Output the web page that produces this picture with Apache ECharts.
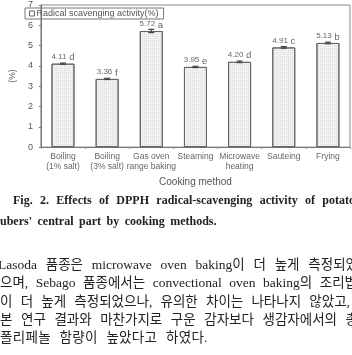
<!DOCTYPE html>
<html>
<head>
<meta charset="utf-8">
<script src="https://cdn.jsdelivr.net/npm/echarts@6/dist/echarts.min.js"></script>
<style>
  body { margin: 0; width: 352px; height: 355px; overflow: hidden; background: #fff; position: relative; }
  #chart { position: absolute; left: 0; top: 0; width: 352px; height: 192px; }
  .ln { position: absolute; white-space: nowrap; text-align: justify; text-align-last: justify; line-height: 18px; color: #222; }
  .cap { font-family: "Liberation Serif", "DejaVu Serif", serif; font-weight: bold; font-size: 12px; }
  .par { font-family: "Liberation Serif", "Noto Sans CJK KR", serif; font-size: 13.5px; }
</style>
</head>
<body>
<div id="chart"></div>
<div class="ln cap" style="left:13px; top:191px; width:342px;">Fig. 2. Effects of DPPH radical-scavenging activity of potato</div>
<div class="ln cap" style="left:-4px; top:212px; text-align-last:left; word-spacing:2.5px;">tubers' central part by cooking methods.</div>
<div class="ln par" style="left:-2px; top:256px; width:360px;">Lasoda 품종은 microwave oven baking이 더 높게 측정되었</div>
<div class="ln par" style="left:0px; top:274px; width:357px;">으며, Sebago 품종에서는 convectional oven baking의 조리법</div>
<div class="ln par" style="left:0px; top:293px; width:350px;">이 더 높게 측정되었으나, 유의한 차이는 나타나지 않았고,</div>
<div class="ln par" style="left:0px; top:311px; width:358px;">본 연구 결과와 마찬가지로 구운 감자보다 생감자에서의 총</div>
<div class="ln par" style="left:0px; top:329px; text-align-last:left; word-spacing:5px; letter-spacing:0.3px;">폴리페놀 함량이 높았다고 하였다.</div>
<script>
const categories = ["Boiling\n(1% salt)", "Boiling\n(3% salt)", "Gas oven\nrange baking", "Steaming", "Microwave\nheating", "Sauteing", "Frying"];
const activity = [4.11, 3.36, 5.72, 3.95, 4.20, 4.91, 5.13];
const errors = [0.03, 0.03, 0.08, 0.03, 0.04, 0.04, 0.04];
const letters = ["d", "f", "a", "e", "d", "c", "b"];
const yTicks = [0, 1, 2, 3, 4, 5, 6, 7];

const myChart = echarts.init(document.getElementById("chart"));
const errData = activity.map((v, i) => [i, v - errors[i], v + errors[i]]);

const option = {
  animation: false,
  textStyle: { fontFamily: "Liberation Sans, Arial, sans-serif" },
  grid: {
    left: 23.5,
    right: 2,
    top: 5,
    bottom: 40,
    show: true,
    borderColor: "#888",
    borderWidth: 1,
  },
  legend: {
    left: 25,
    top: 8,
    borderColor: "#777",
    borderWidth: 1,
    padding: [1, 5, 1, 4],
    itemWidth: 5,
    itemHeight: 5,
    itemGap: 2,
    textStyle: { fontSize: 9, color: "#555", padding: [0, 0, 0, -3] },
    data: [{
      name: "Radical scavenging activity(%)",
      icon: "rect",
      itemStyle: { color: "#fff", borderColor: "#666", borderWidth: 1, decal: "none" },
    }],
  },
  xAxis: {
    type: "category",
    data: categories,
    name: "Cooking method",
    nameLocation: "middle",
    nameGap: 26,
    nameTextStyle: { fontSize: 10, color: "#555" },
    axisLine: { lineStyle: { color: "#777" } },
    axisTick: { show: true, length: 2, lineStyle: { color: "#999" } },
    axisLabel: { fontSize: 8.5, color: "#666", lineHeight: 10, margin: 5, interval: 0 },
  },
  yAxis: {
    type: "value",
    min: 0,
    max: 7,
    interval: 1,
    name: "(%)",
    nameLocation: "middle",
    nameRotate: 90,
    nameGap: 18,
    nameTextStyle: { fontSize: 8.5, color: "#666" },
    axisLine: { show: true, lineStyle: { color: "#777" } },
    axisTick: { show: true, length: 2, lineStyle: { color: "#777" } },
    axisLabel: {
      fontSize: 9,
      color: "#555",
      margin: 8,
      formatter: (v) => (yTicks.includes(v) ? String(v) : ""),
    },
    splitLine: { show: false },
  },
  series: [
    {
      name: "Radical scavenging activity(%)",
      type: "bar",
      barWidth: 23,
      data: activity,
      itemStyle: {
        color: "#f2f2f2",
        borderColor: "#666",
        borderWidth: 1,
        decal: {
          symbol: "rect",
          symbolSize: 1,
          color: "rgba(110,110,110,0.16)",
          dashArrayX: [1, 1],
          dashArrayY: [1, 1],
          rotation: 0,
        },
      },
      label: {
        show: true,
        position: "top",
        distance: 1,
        formatter: (p) => "{v|" + activity[p.dataIndex].toFixed(2) + "}{l| " + letters[p.dataIndex] + "}",
        rich: {
          v: { fontSize: 8, color: "#666" },
          l: { fontSize: 9.5, color: "#666", padding: [2, 0, 0, 0] },
        },
      },
      z: 2,
    },
    {
      type: "custom",
      data: errData,
      z: 5,
      renderItem: (params, api) => {
        const x = api.coord([api.value(0), api.value(1)])[0];
        const lo = api.coord([api.value(0), api.value(1)])[1];
        const hi = api.coord([api.value(0), api.value(2)])[1];
        const w = 3;
        const st = { stroke: "#444", lineWidth: 1.2 };
        return {
          type: "group",
          children: [
            { type: "line", shape: { x1: x, y1: hi, x2: x, y2: lo }, style: st },
            { type: "line", shape: { x1: x - w, y1: hi, x2: x + w, y2: hi }, style: st },
            { type: "line", shape: { x1: x - w, y1: lo, x2: x + w, y2: lo }, style: st },
          ],
        };
      },
    },
  ],
};
myChart.setOption(option);
</script>
</body>
</html>
